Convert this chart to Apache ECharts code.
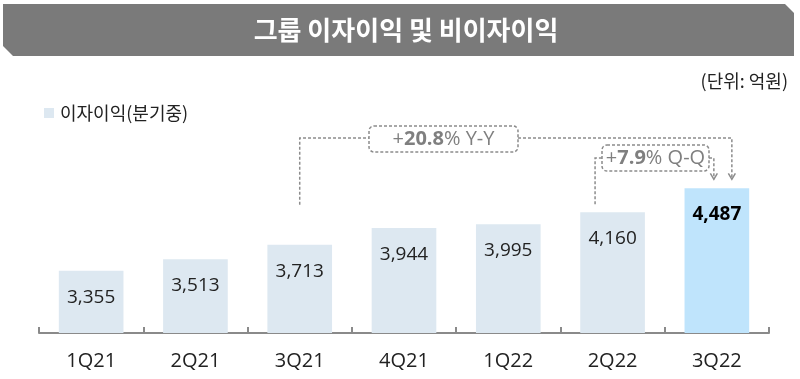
<!DOCTYPE html>
<html><head><meta charset="utf-8">
<script src="https://cdn.jsdelivr.net/npm/echarts@6/dist/echarts.min.js"></script>
<style>html,body{margin:0;padding:0;background:#fff}#c{width:800px;height:379px}</style>
</head><body><div id="c"></div>
<script>
const categories = ['1Q21','2Q21','3Q21','4Q21','1Q22','2Q22','3Q22'];
const values = [3355, 3513, 3713, 3944, 3995, 4160, 4487];
const seriesName = '이자이익(분기중)';
const titleText = '그룹 이자이익 및 비이자이익';
const unitText = '(단위: 억원)';
const yoyText = ['+', '20.8', '% Y-Y'];
const qoqText = ['+', '7.9', '% Q-Q'];

const FONT = "'Open Sans','Noto Sans CJK KR',sans-serif";
const KFONT = "'Noto Sans CJK KR',sans-serif";
const chart = echarts.init(document.getElementById('c'), null, {renderer:'canvas'});
const barColor = '#dde8f1', hiColor = '#bfe4fc';
chart.setOption({
  animation:false,
  textStyle:{fontFamily:FONT},
  grid:{left:39, right:31, top:151, bottom:46},
  legend:{data:[seriesName], left:39, top:99, icon:'rect', itemWidth:10, itemHeight:10, itemGap:6,
    textStyle:{fontSize:18, color:'#222', fontFamily:KFONT, padding:[0,0,0,1]}},
  xAxis:{type:'category', data:categories,
    axisLine:{lineStyle:{color:'#8a8a8a', width:2}},
    axisTick:{show:true, inside:true, length:6, lineStyle:{color:'#8a8a8a', width:2}},
    axisLabel:{fontSize:20, color:'#222', margin:18, fontFamily:FONT}},
  yAxis:{type:'value', min:2500, max:5000, show:false, splitLine:{show:false}},
  series:[{type:'bar', name:seriesName, barWidth:'62%',
    itemStyle:{color:barColor},
    data: values.map((v,i)=> i===values.length-1 ? {value:v, itemStyle:{color:hiColor},
      label:{fontWeight:'bold', color:'#000'}} : v),
    label:{show:true, position:'insideTop', distance:17, fontSize:19, color:'#222', fontFamily:FONT,
      formatter: p => p.value.toLocaleString('en-US')}}]
});

const px = (i) => chart.convertToPixel({seriesIndex:0}, [i, values[i]]);
const p3 = px(2), p6 = px(5), p7 = px(6);
const dash = {stroke:'#8c8c8c', lineWidth:1.5, lineDash:[3,2], fill:null};
const arrow = (x, y) => ({type:'polyline', shape:{points:[[x-3.5,y-6],[x,y],[x+3.5,y-6]]},
  style:{stroke:'#8c8c8c', lineWidth:1.5, fill:null}});
const yY = 138, qY = 158;
const yBox = {x:369, w:149, y:126, h:26};
const qBox = {x:602, w:107, y:145, h:26};
const arrowTip = p7[1] - 9;
const annText = (cx, cy, parts) => ({type:'text', x:cx, y:cy,
  style:{text:'{n|'+parts[0]+'}{b|'+parts[1]+'}{n|'+parts[2]+'}', align:'center', verticalAlign:'middle',
    rich:{n:{fontSize:20, fill:'#7f7f7f', fontFamily:FONT}, b:{fontSize:20, fontWeight:'bold', fill:'#7f7f7f', fontFamily:FONT}}}});

chart.setOption({graphic:[
  {type:'polygon', shape:{points:[[3,4],[785,4],[794,13],[794,56],[13,56],[3,46]]}, style:{fill:'#7a7a7a'}},
  {type:'text', x:406, y:30, style:{text:titleText, fill:'#fff', fontSize:26, fontWeight:'bold',
    fontFamily:KFONT, align:'center', verticalAlign:'middle'}},
  {type:'text', x:788, y:81, style:{text:unitText, fill:'#222', fontSize:18,
    fontFamily:KFONT, align:'right', verticalAlign:'middle'}},
  // Y-Y bracket
  {type:'polyline', shape:{points:[[p3[0], p3[1]-40],[p3[0], yY],[yBox.x, yY]]}, style:dash},
  {type:'polyline', shape:{points:[[yBox.x+yBox.w, yY],[p7[0]+15, yY],[p7[0]+15, arrowTip]]}, style:dash},
  arrow(p7[0]+15, arrowTip),
  {type:'rect', shape:{x:yBox.x, y:yBox.y, width:yBox.w, height:yBox.h, r:5}, style:Object.assign({}, dash, {fill:'#fff'})},
  annText(yBox.x + yBox.w/2, yBox.y + yBox.h/2, yoyText),
  // Q-Q bracket
  {type:'polyline', shape:{points:[[p6[0]-17.5, p6[1]-8],[p6[0]-17.5, qY],[qBox.x, qY]]}, style:dash},
  {type:'polyline', shape:{points:[[qBox.x+qBox.w, qY],[p7[0]-3, qY],[p7[0]-3, arrowTip]]}, style:dash},
  arrow(p7[0]-3, arrowTip),
  {type:'rect', shape:{x:qBox.x, y:qBox.y, width:qBox.w, height:qBox.h, r:5}, style:Object.assign({}, dash, {fill:'#fff'})},
  annText(qBox.x + qBox.w/2, qBox.y + qBox.h/2, qoqText)
]});
</script></body></html>
